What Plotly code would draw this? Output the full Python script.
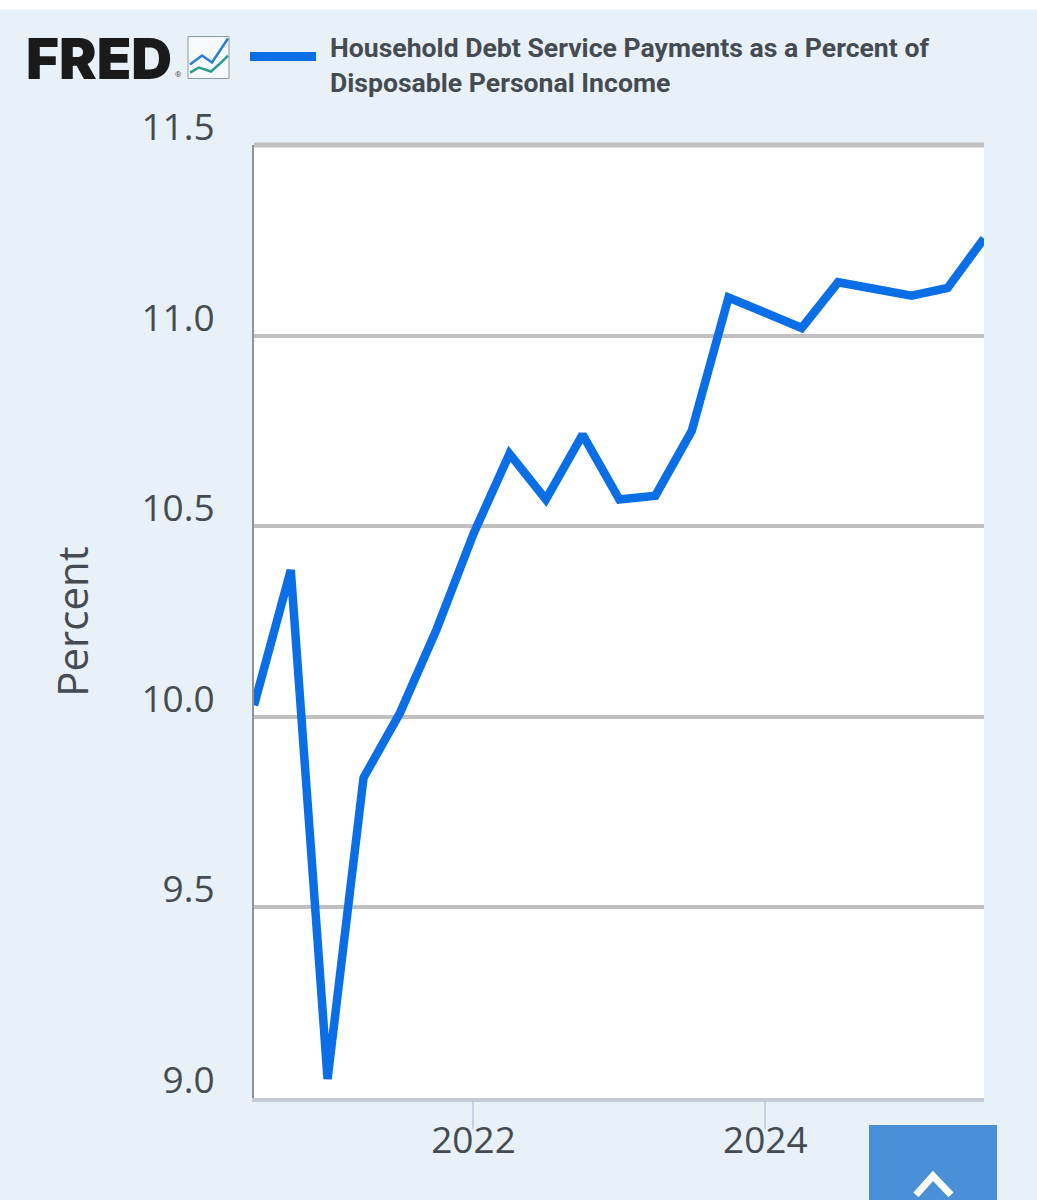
import plotly.graph_objects as go

W, H = 1037, 1200
L, R, T, B = 254, 984, 144.5, 1098

dates = [
    "2020-07-01", "2020-10-01",
    "2021-01-01", "2021-04-01", "2021-07-01", "2021-10-01",
    "2022-01-01", "2022-04-01", "2022-07-01", "2022-10-01",
    "2023-01-01", "2023-04-01", "2023-07-01", "2023-10-01",
    "2024-01-01", "2024-04-01", "2024-07-01", "2024-10-01",
    "2025-01-01", "2025-04-01", "2025-07-01",
]
values = [
    10.03, 10.385,
    9.05, 9.84, 10.01, 10.23,
    10.48, 10.69, 10.57, 10.74,
    10.57, 10.58, 10.75, 11.10,
    11.06, 11.02, 11.14, 11.125,
    11.105, 11.125, 11.255,
]
y_ticks = [9.0, 9.5, 10.0, 10.5, 11.0, 11.5]
x_ticks = ["2022-01-01", "2024-01-01"]
x_labels = ["2022", "2024"]
series_name = "Household Debt Service Payments as a Percent of<br>Disposable Personal Income"

LINE_COLOR = "#0a6fe6"
GRID_COLOR = "#c0c0c0"
TEXT_COLOR = "#444b52"


# pixel position in the window -> paper coordinates
def px(x):
    return (x - L) / (R - L)


def py(y):
    return (B - y) / (B - T)


def path(points):
    return "M" + " L".join(f"{px(x):.4f},{py(y):.4f}" for x, y in points)


fig = go.Figure()

fig.add_trace(go.Scatter(
    x=dates,
    y=values,
    mode="lines",
    name=series_name,
    line=dict(color=LINE_COLOR, width=8.5, shape="linear"),
    hoverinfo="x+y",
))

shapes = [
    # white strip above the chart panel
    dict(type="rect", xref="paper", yref="paper", x0=px(-10), x1=px(W + 10), y0=py(9), y1=py(-10),
         fillcolor="#ffffff", line=dict(width=0), layer="below"),
    # plotly skips the gridline on the top edge of the range
    dict(type="line", xref="paper", yref="paper", x0=0, x1=1, y0=1, y1=1,
         line=dict(color=GRID_COLOR, width=5)),
    # back-to-top button
    dict(type="rect", xref="paper", yref="paper", x0=px(869), x1=px(997), y0=py(1125), y1=py(H + 10),
         fillcolor="#4a90d9", line=dict(width=0)),
    dict(type="path", xref="paper", yref="paper",
         path=path([(916, 1195), (933, 1176), (951, 1195)]),
         line=dict(color="#ffffff", width=7)),
    # logo icon
    dict(type="rect", xref="paper", yref="paper", x0=px(188), x1=px(229), y0=py(36), y1=py(78),
         fillcolor="#f7fafc", line=dict(color="#8a9aa0", width=1)),
    dict(type="path", xref="paper", yref="paper",
         path=path([(190, 64), (202, 55), (212, 62), (222, 47), (228, 38)]),
         line=dict(color="#2a7fd5", width=2.5)),
    dict(type="path", xref="paper", yref="paper",
         path=path([(190, 72), (199, 67), (211, 71), (220, 63), (228, 55)]),
         line=dict(color="#2a9d8f", width=2.5)),
    # legend key
    dict(type="line", xref="paper", yref="paper", x0=px(250), x1=px(316), y0=py(56), y1=py(56),
         line=dict(color=LINE_COLOR, width=9)),
]

annotations = [
    dict(text="FRED", xref="paper", yref="paper", x=px(24), y=py(58), xanchor="left", yanchor="middle",
         showarrow=False, font=dict(family="Inter", size=56.5, color="#1a1a1a", weight=900)),
    dict(text="®", xref="paper", yref="paper", x=px(173), y=py(74), xanchor="left", yanchor="middle",
         showarrow=False, font=dict(family="Roboto", size=8, color="#555555")),
    dict(text=series_name, xref="paper", yref="paper", x=px(328), y=py(64), xanchor="left", yanchor="middle",
         align="left", showarrow=False,
         font=dict(family="Roboto", size=26.6, color=TEXT_COLOR, weight=700)),
]

fig.update_layout(
    width=W,
    height=H,
    margin=dict(l=L, r=W - R, t=T, b=H - B, pad=0),
    paper_bgcolor="#e8f1f8",
    plot_bgcolor="#ffffff",
    font=dict(family="Open Sans", color=TEXT_COLOR),
    showlegend=False,
    shapes=shapes,
    annotations=annotations,
    xaxis=dict(
        range=["2020-07-01", "2025-07-01"],
        tickvals=x_ticks,
        ticktext=x_labels,
        ticks="outside",
        ticklen=27,
        tickwidth=2,
        tickcolor="#c5d2e6",
        ticklabelstandoff=-20,
        tickfont=dict(size=37),
        showgrid=False,
        showline=True,
        linecolor="#c5cad6",
        linewidth=4,
        zeroline=False,
    ),
    yaxis=dict(
        range=[9.0, 11.5],
        tickvals=y_ticks,
        tickformat=".1f",
        tickfont=dict(size=37),
        ticks="",
        ticklabelstandoff=30,
        ticklabelshift=-18,
        showgrid=True,
        gridcolor=GRID_COLOR,
        gridwidth=4,
        showline=True,
        linecolor="#8f9397",
        linewidth=2,
        zeroline=False,
        title=dict(text="Percent", font=dict(size=42), standoff=40),
    ),
)

# drop the browser's default page margin so the figure fills the window
fig.write_html(
    "out.html",
    config=dict(displayModeBar=False),
    post_script="document.body.style.margin = '0';",
)
